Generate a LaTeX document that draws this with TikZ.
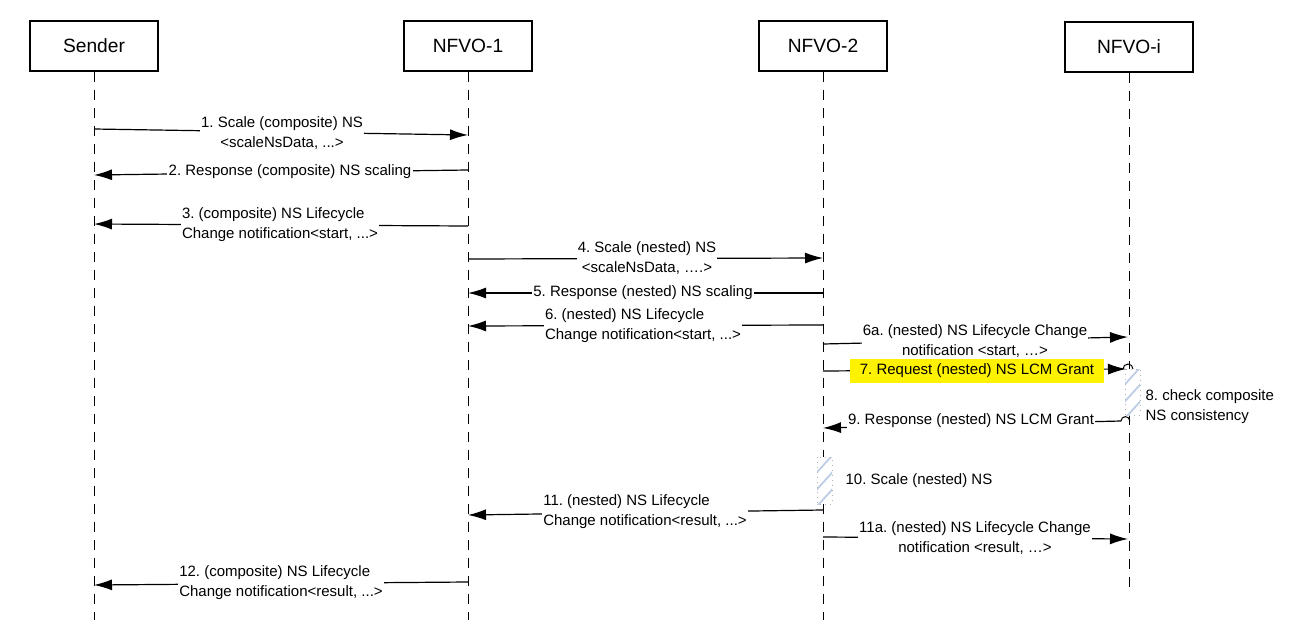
\documentclass[tikz,border=0pt]{standalone}
\usepackage{fontspec}
\setmainfont{Liberation Sans}
\usetikzlibrary{arrows.meta}
\definecolor{hl}{RGB}{255,242,0}
\definecolor{hatch}{RGB}{190,205,230}
\frenchspacing
\tikzset{
  actor/.style={draw, line width=0.6pt, minimum width=64pt, minimum height=25pt, inner sep=0pt, font=\fontsize{9.6}{11}\selectfont},
  life/.style={dash pattern=on 5pt off 4pt, line width=0.5pt},
  msg/.style={-{Latex[length=9pt,width=5.5pt]}, line width=0.6pt},
  lbl/.style={fill=white, inner sep=0.6pt, font=\fontsize{7.5}{9.9}\selectfont},
}
\begin{document}
\frenchspacing
\begin{tikzpicture}[x=0.5pt,y=-0.5pt]
\useasboundingbox (0,0) rectangle (1298,627);
% actors
\node[actor] (snd) at (94,46) {Sender};
\node[actor] (n1) at (468,46) {NFVO-1};
\node[actor] (n2) at (823,46) {NFVO-2};
\node[actor] (ni) at (1129,47) {NFVO-i};
\coordinate (sndE) at (94,620);
\coordinate (n1E) at (468,620);
\coordinate (n2E) at (823,620);
\coordinate (niE) at (1129,592);
\draw[life] (snd.south) -- (sndE);
\draw[life] (n1.south) -- (n1E);
\draw[life] (n2.south) -- (n2E);
\draw[life] (ni.south) -- (niE);

% message endpoints
\coordinate (m1a) at (94,129);  \coordinate (m1b) at (468,135);
\coordinate (m2a) at (468,170); \coordinate (m2b) at (94,175);
\coordinate (m3a) at (468,226); \coordinate (m3b) at (94,224);
\coordinate (m4a) at (468,259); \coordinate (m4b) at (823,258);
\coordinate (m5a) at (823,293); \coordinate (m5b) at (468,293);
\coordinate (m6a) at (823,325); \coordinate (m6b) at (468,326);
\coordinate (m6ca) at (823,344); \coordinate (m6cb) at (1128,337);
\coordinate (m7a) at (823,371); \coordinate (m7b) at (1126,369);
\coordinate (m9a) at (1121,421); \coordinate (m9b) at (823,428);
\coordinate (m11a) at (823,510); \coordinate (m11b) at (468,515);
\coordinate (m11ca) at (823,537); \coordinate (m11cb) at (1128,539);
\coordinate (m12a) at (468,582); \coordinate (m12b) at (94,585);

% activation boxes
\fill[white] (1125,369) rectangle (1140,415);
\begin{scope}
\clip (1125,369) rectangle (1140,415);
\foreach \k in {0,1,2,3} \draw[hatch, line width=0.9pt] (1118,392+17*\k) -- (1147,360+17*\k);
\end{scope}
\draw[gray!60, dotted, line width=0.5pt] (1125,369) rectangle (1140,415);
\fill[white] (817,457) rectangle (832,504);
\begin{scope}
\clip (817,457) rectangle (832,504);
\foreach \k in {0,1,2,3} \draw[hatch, line width=0.9pt] (810,480+17*\k) -- (839,448+17*\k);
\end{scope}
\draw[gray!60, dotted, line width=0.5pt] (817,457) rectangle (832,504);

% arrows
\draw[msg] (m1a) -- (m1b);
\node[lbl, align=center] (l1) at (282,133) {1. Scale (composite) NS\\{<}scaleNsData, ...{>}};
\draw[msg] (m2a) -- (m2b);
\node[lbl] (l2) at (290,172) {2. Response (composite) NS scaling};
\draw[msg] (m3a) -- (m3b);
\node[lbl, align=left] (l3) at (280,225) {3. (composite) NS Lifecycle\\Change notification{<}start, ...{>}};
\draw[msg] (m4a) -- (m4b);
\node[lbl, align=center] (l4) at (647,258) {4. Scale (nested) NS\\{<}scaleNsData, ….{>}};
\draw[msg] (m5a) -- (m5b);
\node[lbl] (l5) at (643,293) {5. Response (nested) NS scaling};
\draw[msg] (m6a) -- (m6b);
\node[lbl, align=left] (l6) at (643,326) {6. (nested) NS Lifecycle\\Change notification{<}start, ...{>}};
\draw[msg] (m6ca) -- (m6cb);
\node[lbl, align=center] (l6a) at (975,341) {6a. (nested) NS Lifecycle Change\\notification {<}start, …{>}};
\draw[msg] (m7a) -- (m7b);
\node[lbl, fill=hl, inner xsep=5pt, inner ysep=2.5pt] (l7) at (977,371) {7. Request (nested) NS LCM Grant};
\draw[line width=0.5pt] (1123,369) arc[start angle=180, end angle=0, radius=2.5pt];
\node[lbl, fill=none, align=left, anchor=west] (l8) at (1144,407) {8. check composite\\NS consistency};
\draw[line width=0.5pt] (1121,421) arc[start angle=180, end angle=0, radius=2.2pt];
\draw[msg] (m9a) -- (m9b);
\node[lbl] (l9) at (971,421) {9. Response (nested) NS LCM Grant};
\node[lbl, fill=none, anchor=west] (l10) at (844,481) {10. Scale (nested) NS};
\draw[msg] (m11a) -- (m11b);
\node[lbl, align=left] (l11) at (645,512) {11. (nested) NS Lifecycle\\Change notification{<}result, ...{>}};
\draw[msg] (m11ca) -- (m11cb);
\node[lbl, align=center] (l11a) at (975,538) {11a. (nested) NS Lifecycle Change\\notification {<}result, …{>}};
\draw[msg] (m12a) -- (m12b);
\node[lbl, align=left] (l12) at (281,583) {12. (composite) NS Lifecycle\\Change notification{<}result, ...{>}};
\end{tikzpicture}
\end{document}
